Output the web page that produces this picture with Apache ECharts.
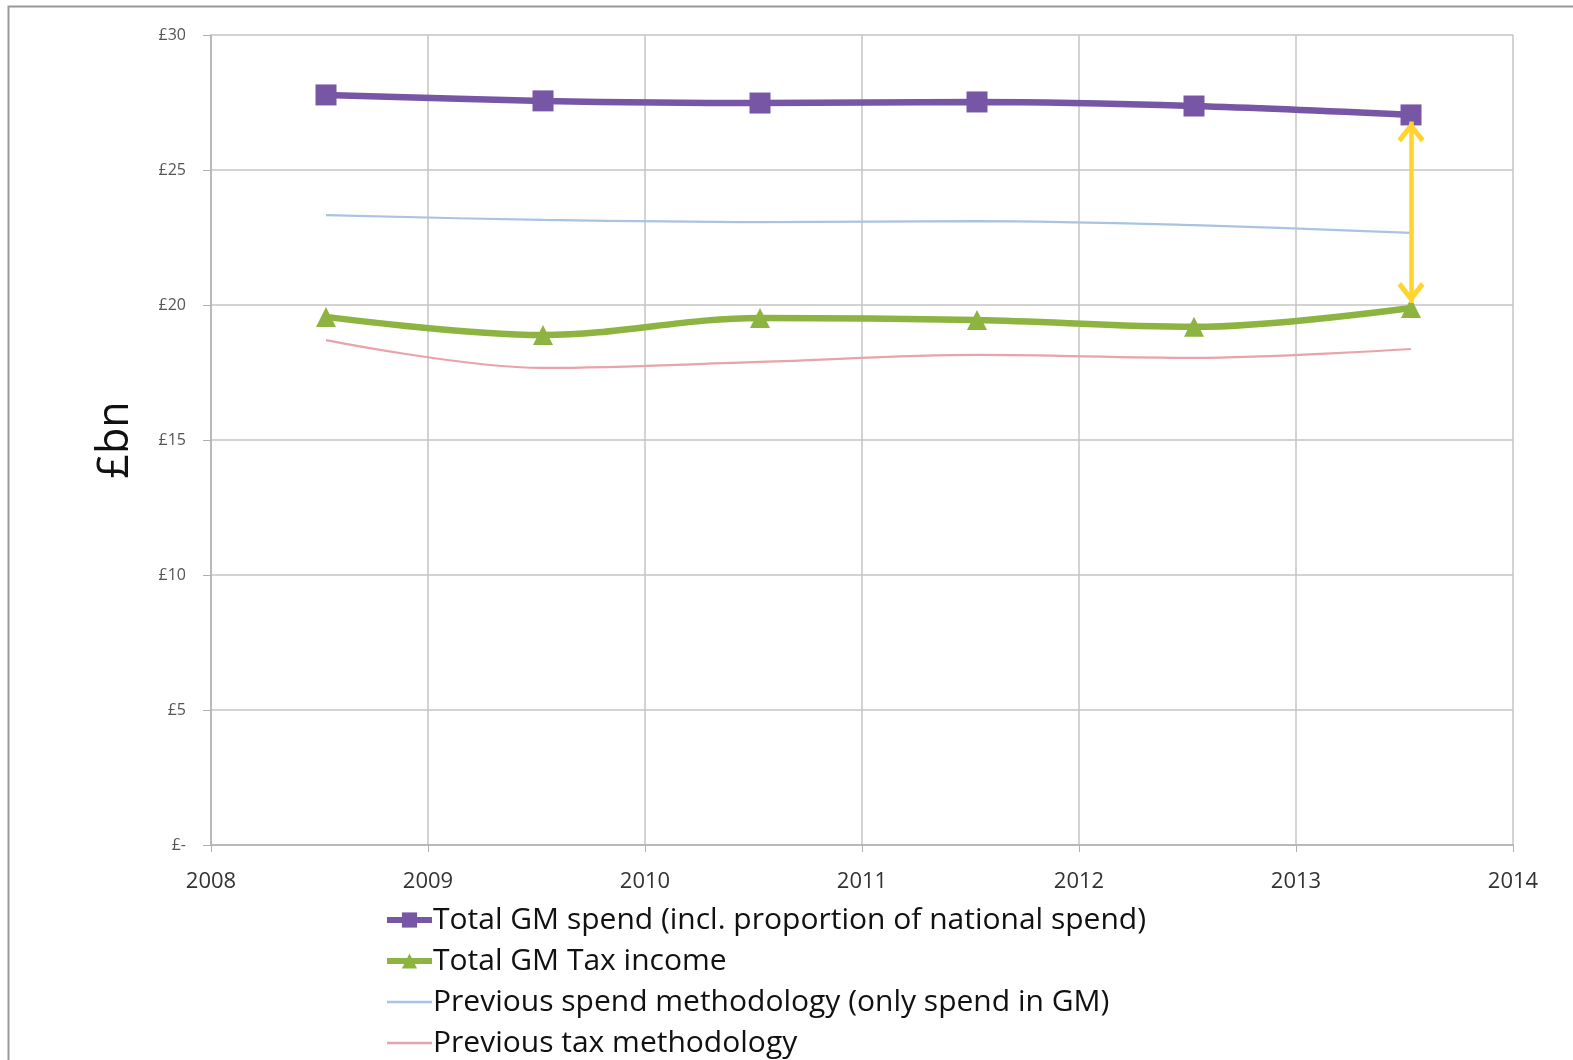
<!DOCTYPE html>
<html>
<head>
<meta charset="utf-8">
<script src="https://cdn.jsdelivr.net/npm/echarts@6/dist/echarts.min.js"></script>
<style>
html,body{margin:0;padding:0;background:#fff;}
#c{width:1573px;height:1060px;}
</style>
</head>
<body>
<div id="c"></div>
<script>
// Data
const years = [2008.53, 2009.53, 2010.53, 2011.53, 2012.53, 2013.53];
const totalSpend = [27.78, 27.56, 27.48, 27.52, 27.37, 27.04];
const totalTax = [19.56, 18.89, 19.52, 19.44, 19.19, 19.89];
const prevSpend = [23.33, 23.15, 23.07, 23.11, 22.96, 22.67];
const prevTax = [18.70, 17.67, 17.89, 18.15, 18.04, 18.37];
const seriesNames = [
  'Total GM spend (incl. proportion of national spend)',
  'Total GM Tax income',
  'Previous spend methodology (only spend in GM)',
  'Previous tax methodology'
];
const gapArrow = { x: 2013.53, top: 26.80, bottom: 20.07 };

const pair = (xs, ys) => xs.map((x, i) => [x, ys[i]]);
const FONT = '"Open Sans", Lato, sans-serif';
const chevron = 'path://M13,-20 L13,-20 M13,0 L26,16 L22.5,19.5 L13,7.5 L3.5,19.5 L0,16 Z';

const chart = echarts.init(document.getElementById('c'));
chart.setOption({
  animation: false,
  backgroundColor: '#ffffff',
  textStyle: { fontFamily: FONT },
  graphic: [{
    type: 'rect', left: 6, top: 4, silent: true,
    shape: { width: 1620, height: 1100 },
    style: { fill: 'none', stroke: '#9a9a9a', lineWidth: 2 }
  }],
  grid: { left: 211, right: 60, top: 35, bottom: 215 },
  legend: {
    orient: 'vertical', left: 384, top: 905, padding: 0,
    itemWidth: 45, itemHeight: 19, itemGap: 11,
    textStyle: { fontSize: 30, color: '#111', fontFamily: FONT, lineHeight: 30, padding: [0,0,0,-4] },
    data: [
      { name: seriesNames[0], lineStyle: { width: 6 } },
      { name: seriesNames[1], lineStyle: { width: 6 } },
      { name: seriesNames[2], lineStyle: { width: 2.5 }, itemStyle: { opacity: 0 } },
      { name: seriesNames[3], lineStyle: { width: 2.5 }, itemStyle: { opacity: 0 } }
    ]
  },
  xAxis: {
    type: 'value', min: 2008, max: 2014, interval: 1,
    axisLine: { show: true, lineStyle: { color: '#b0b0b0', width: 1.5 } },
    axisTick: { show: true, length: 7, lineStyle: { color: '#b0b0b0' } },
    splitLine: { show: true, lineStyle: { color: '#c4c4c4', width: 1.5 } },
    axisLabel: { fontSize: 22, color: '#333', margin: 26, formatter: v => String(v) }
  },
  yAxis: {
    type: 'value', min: 0, max: 30, interval: 5,
    name: '£bn', nameLocation: 'middle', nameRotate: 90, nameGap: 74,
    nameTextStyle: { fontSize: 43, color: '#111', fontFamily: FONT },
    axisLine: { show: true, lineStyle: { color: '#b0b0b0', width: 1.5 } },
    axisTick: { show: true, length: 8, lineStyle: { color: '#b0b0b0' } },
    splitLine: { show: true, lineStyle: { color: '#c4c4c4', width: 1.5 } },
    axisLabel: { fontSize: 16, color: '#555', margin: 25,
      formatter: v => v === 0 ? '£-' : '£' + v }
  },
  series: [
    {
      name: seriesNames[2], type: 'line', smooth: 0.35, showSymbol: false, symbol: 'none',
      data: pair(years, prevSpend), z: 2,
      lineStyle: { color: '#a9c4e2', width: 2.2 }, itemStyle: { color: '#a9c4e2' }
    },
    {
      name: seriesNames[3], type: 'line', smooth: 0.35, showSymbol: false, symbol: 'none',
      data: pair(years, prevTax), z: 2,
      lineStyle: { color: '#e8a3ab', width: 2.2 }, itemStyle: { color: '#e8a3ab' }
    },
    {
      name: seriesNames[0], type: 'line', smooth: 0.35, symbol: 'rect', symbolSize: 21,
      data: pair(years, totalSpend), z: 4,
      lineStyle: { color: '#7856a6', width: 6.5 }, itemStyle: { color: '#7856a6' }
    },
    {
      name: seriesNames[1], type: 'line', smooth: 0.35, symbol: 'triangle', symbolSize: 20,
      data: pair(years, totalTax), z: 4,
      lineStyle: { color: '#8db440', width: 6.5 }, itemStyle: { color: '#8db440' },
      markLine: {
        silent: true, animation: false,
        symbol: [chevron, chevron], symbolSize: [27, 42],
        label: { show: false },
        lineStyle: { color: '#ffd42e', width: 4.5, type: 'solid' },
        itemStyle: { color: '#ffd42e' },
        emphasis: { disabled: true },
        data: [[{ coord: [gapArrow.x, gapArrow.top] }, { coord: [gapArrow.x, gapArrow.bottom] }]]
      }
    }
  ]
});
</script>
</body>
</html>
